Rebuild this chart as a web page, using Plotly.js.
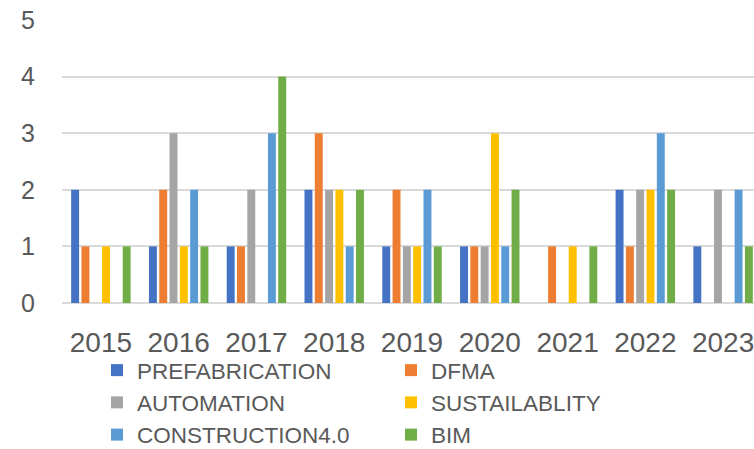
<!DOCTYPE html>
<html><head><meta charset="utf-8">
<script src="https://cdn.plot.ly/plotly-3.0.1.min.js"></script>
<style>html,body{margin:0;padding:0;overflow:hidden;background:#fff}#chart{width:770px;height:449px}</style>
</head><body><div id="chart"></div>
<script>
const years = ['2015','2016','2017','2018','2019','2020','2021','2022','2023'];
const prefabrication   = [2,1,1,2,1,1,0,2,1];
const dfma             = [1,2,1,3,2,1,1,1,0];
const automation       = [0,3,2,2,1,1,0,2,2];
const sustailablity    = [1,1,0,2,1,3,1,2,0];
const construction40   = [0,2,3,1,2,1,0,3,2];
const bim              = [1,1,4,2,1,2,1,2,1];
const seriesNames = ['PREFABRICATION','DFMA','AUTOMATION','SUSTAILABLITY','CONSTRUCTION4.0','BIM'];
const seriesData = [prefabrication,dfma,automation,sustailablity,construction40,bim];
const colors = ['#4472C4','#ED7D31','#A5A5A5','#FFC000','#5B9BD5','#70AD47'];
const legendOf = ['legend','legend2','legend','legend2','legend','legend2'];

const FONT = '"Liberation Sans", Arial, sans-serif';
const traces = seriesNames.map((n,i)=>({
  type:'bar', name:n, x:years, y:seriesData[i],
  marker:{color:colors[i], line:{width:0}},
  legend:legendOf[i], hoverinfo:'skip'
}));
const legendCommon = {
  orientation:'v', xref:'container', yref:'container', xanchor:'left', yanchor:'top',
  font:{family:FONT, size:22.5, color:'#595959'}, bgcolor:'rgba(0,0,0,0)', borderwidth:0,
  traceorder:'normal'
};
const layout = {
  width:770, height:449,
  margin:{l:62, r:8, t:20, b:146, autoexpand:false},
  paper_bgcolor:'#fff', plot_bgcolor:'#fff',
  bargap:0.205, bargroupgap:0.23, barmode:'group',
  font:{family:FONT, color:'#595959', size:24},
  xaxis:{type:'category', showgrid:false, zeroline:false, showline:false, ticks:'', tickangle:0,
         ticklabelstandoff:20, tickfont:{family:FONT, size:28, color:'#595959'}},
  yaxis:{range:[0,5], dtick:1, tick0:0, showgrid:true, gridcolor:'#D9D9D9', gridwidth:2,
         zeroline:true, zerolinecolor:'#D9D9D9', zerolinewidth:2, showline:false, ticks:'',
         ticklabelstandoff:26, tickfont:{family:FONT, size:25, color:'#595959'}},
  showlegend:true,
  legend:Object.assign({}, legendCommon, {x:97/770, y:1-349/449}),
  legend2:Object.assign({}, legendCommon, {x:391/770, y:1-349/449})
};
Plotly.newPlot('chart', traces, layout, {displayModeBar:false, staticPlot:true});
</script></body></html>
